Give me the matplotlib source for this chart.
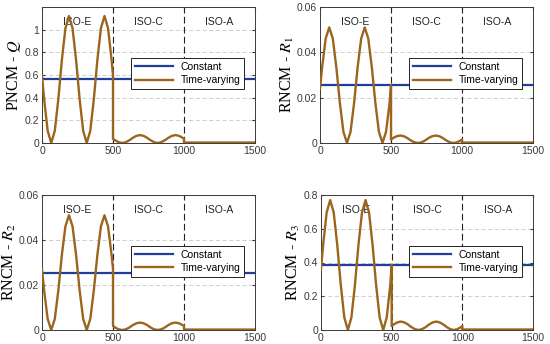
import numpy as np
import matplotlib
matplotlib.use("Agg")
import matplotlib.pyplot as plt

# time grid (s) for each stage
t_e = [0, 15, 40, 65, 90, 115, 140, 165, 190, 215, 240, 265, 290, 315, 340, 365, 390, 415, 440, 465, 490, 500]
t_c = [500, 515, 540, 565, 590, 615, 640, 665, 690, 715, 740, 765, 790, 815, 840, 865, 890, 915, 940, 965, 990, 1000]
t_a = [1000, 1100, 1200, 1300, 1400, 1500]

# PNCM - Q
q_e = [0.595, 0.387, 0.107, 0, 0.107, 0.387, 0.733, 1.013, 1.12, 1.013, 0.733, 0.387, 0.107, 0,
       0.107, 0.387, 0.733, 1.013, 1.12, 1.013, 0.733, 0.595]
q_c = [0.037, 0.024, 0.007, 0, 0.007, 0.024, 0.046, 0.063, 0.07, 0.063, 0.046, 0.024, 0.007, 0,
       0.007, 0.024, 0.046, 0.063, 0.07, 0.063, 0.046, 0.037]
q_a = [0.004, 0.004, 0.004, 0.004, 0.004, 0.004]
q_const = 0.565

# RNCM - R1
r1_e = [0.0239, 0.0334, 0.0461, 0.051, 0.0461, 0.0334, 0.0176, 0.0049, 0, 0.0049, 0.0176, 0.0334, 0.0461,
        0.051, 0.0461, 0.0334, 0.0176, 0.0049, 0, 0.0049, 0.0176, 0.0255]
r1_c = [0.0015, 0.0022, 0.0030, 0.0033, 0.0030, 0.0022, 0.0011, 0.0003, 0, 0.0003, 0.0011, 0.0022, 0.0030,
        0.0033, 0.0030, 0.0022, 0.0011, 0.0003, 0, 0.0003, 0.0011, 0.0015]
r1_a = [0.0002, 0.0002, 0.0002, 0.0002, 0.0002, 0.0002]
r1_const = 0.0255

# RNCM - R2
r2_e = [0.0271, 0.0176, 0.0049, 0, 0.0049, 0.0176, 0.0334, 0.0461, 0.051, 0.0461, 0.0334, 0.0176, 0.0049,
        0, 0.0049, 0.0176, 0.0334, 0.0461, 0.051, 0.0461, 0.0334, 0.0271]
r2_c = [0.0018, 0.0011, 0.0003, 0, 0.0003, 0.0011, 0.0022, 0.0030, 0.0033, 0.0030, 0.0022, 0.0011, 0.0003,
        0, 0.0003, 0.0011, 0.0022, 0.0030, 0.0033, 0.0030, 0.0022, 0.0018]
r2_a = [0.0002, 0.0002, 0.0002, 0.0002, 0.0002, 0.0002]
r2_const = 0.0255

# RNCM - R3
r3_e = [0.361, 0.504, 0.696, 0.77, 0.696, 0.504, 0.266, 0.074, 0, 0.074, 0.266, 0.504, 0.696, 0.77,
        0.696, 0.504, 0.266, 0.074, 0, 0.074, 0.266, 0.385]
r3_c = [0.023, 0.033, 0.045, 0.05, 0.045, 0.033, 0.017, 0.005, 0, 0.005, 0.017, 0.033, 0.045, 0.05,
        0.045, 0.033, 0.017, 0.005, 0, 0.005, 0.017, 0.023]
r3_a = [0.003, 0.003, 0.003, 0.003, 0.003, 0.003]
r3_const = 0.385

stage_names = ["ISO-E", "ISO-C", "ISO-A"]
stage_mid = [250, 750, 1250]
stage_bounds = [500, 1000]

panels = [
    ("PNCM - $Q$", q_e, q_c, q_a, q_const, 1.2, [0, 0.2, 0.4, 0.6, 0.8, 1], ["0", "0.2", "0.4", "0.6", "0.8", "1"]),
    ("RNCM - $R_1$", r1_e, r1_c, r1_a, r1_const, 0.06, [0, 0.02, 0.04, 0.06], ["0", "0.02", "0.04", "0.06"]),
    ("RNCM - $R_2$", r2_e, r2_c, r2_a, r2_const, 0.06, [0, 0.02, 0.04, 0.06], ["0", "0.02", "0.04", "0.06"]),
    ("RNCM - $R_3$", r3_e, r3_c, r3_a, r3_const, 0.8, [0, 0.2, 0.4, 0.6, 0.8], ["0", "0.2", "0.4", "0.6", "0.8"]),
]

# axes boxes in pixels: left, top, right, bottom
boxes = [(42, 7, 255, 143), (320, 7, 533, 143), (42, 195, 255, 330), (321, 195, 533, 330)]

W, H = 550, 344
fig = plt.figure(figsize=(W / 100, H / 100), dpi=100)
plt.rcParams['mathtext.fontset'] = 'stix'

blue = '#1f3f9f'
brown = '#9c651e'
edge = '#3a3a3a'

for (label, ye, yc, ya, yconst, ymax, yt, ytl), (l, t, r, b) in zip(panels, boxes):
    ax = fig.add_axes([l / W, 1 - b / H, (r - l) / W, (b - t) / H])
    x = t_e + t_c + t_a
    y = ye + yc + ya
    ax.plot([0, 1500], [yconst, yconst], color=blue, lw=1.6, label='Constant', zorder=3)
    ax.plot(x, y, color=brown, lw=1.7, label='Time-varying', zorder=4)
    for xb in stage_bounds:
        ax.axvline(xb, color='#222222', ls=(0, (6, 3)), lw=0.8, zorder=2)
    for name, xm in zip(stage_names, stage_mid):
        ax.text(xm, 0.89, name, ha='center', va='center', fontsize=7.5,
                transform=ax.get_xaxis_transform(),
                family='Liberation Sans', color='#222222')
    ax.set_xlim(0, 1500)
    ax.set_ylim(0, ymax)
    ax.set_xticks([0, 500, 1000, 1500])
    ax.set_yticks(yt)
    ax.set_yticklabels(ytl)
    ax.grid(axis='y', color='#c8c8c8', ls=(0, (5, 3)), lw=0.6)
    ax.set_axisbelow(True)
    ax.tick_params(direction='in', length=2.5, labelsize=7.5, colors=edge, top=True, right=True, pad=2)
    for lab in ax.get_xticklabels() + ax.get_yticklabels():
        lab.set_family('Liberation Sans')
    for s in ax.spines.values():
        s.set_color(edge)
        s.set_linewidth(0.7)
    ax.set_ylabel(label, fontsize=11.5, family='Liberation Serif', labelpad=1)
    leg = ax.legend(loc='upper right', bbox_to_anchor=(0.975, 0.66), fontsize=7.5,
                    fancybox=False, framealpha=1, edgecolor='#222222', borderpad=0.35,
                    handlelength=3.6, labelspacing=0.3, prop={'family': 'Liberation Sans', 'size': 7.5})
    leg.get_frame().set_linewidth(0.7)

fig.savefig('out.png', dpi=100)
